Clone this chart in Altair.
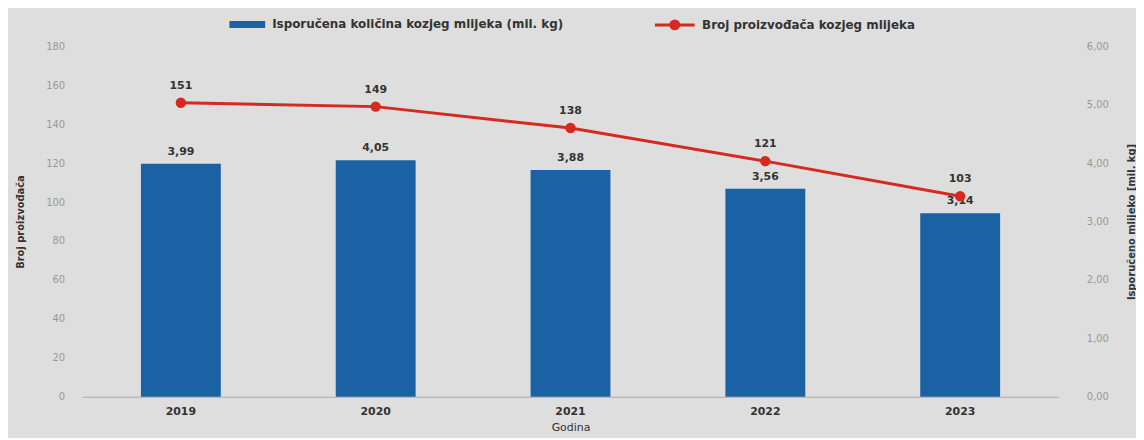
import altair as alt
import pandas as pd

years = ["2019", "2020", "2021", "2022", "2023"]
milk = [3.99, 4.05, 3.88, 3.56, 3.14]
producers = [151, 149, 138, 121, 103]
milk_label = "Isporučena količina kozjeg mlijeka (mil. kg)"
prod_label = "Broj proizvođača kozjeg mlijeka"
left_ticks = [0, 20, 40, 60, 80, 100, 120, 140, 160, 180]
right_ticks = [0, 1, 2, 3, 4, 5, 6]

df = pd.DataFrame({"Godina": years, "milk": milk, "producers": producers})
df["milk_txt"] = [f"{v:.2f}".replace(".", ",") for v in milk]
df["s1"] = milk_label
df["s2"] = prod_label

FONT = "DejaVu Sans"
BLUE = "#1b62a5"
RED = "#d42a20"

x = alt.X(
    "Godina:N",
    scale=alt.Scale(paddingInner=0.59, paddingOuter=0.3),
    axis=alt.Axis(
        title="Godina", labelAngle=0, ticks=False, labelFontWeight="bold",
        labelColor="#333", labelFontSize=11, labelPadding=9,
        titleFontSize=11, titleFontWeight="normal", titleColor="#333",
        titlePadding=5, domainColor="#aaa",
    ),
)

y_bar = alt.Y(
    "milk:Q",
    scale=alt.Scale(domain=[0, 6], nice=False),
    axis=alt.Axis(
        orient="right", title="Isporučeno mlijeko [mil. kg]", values=right_ticks,
        labelExpr="replace(format(datum.value, '.2f'), '.', ',')",
        grid=False, domain=False, ticks=False, labelColor="#999",
        labelFontSize=10, labelPadding=28, titleAngle=270, titleFontSize=10,
        titleFontWeight="bold", titleColor="#333", titlePadding=28,
    ),
)

y_line = alt.Y(
    "producers:Q",
    scale=alt.Scale(domain=[0, 180], nice=False),
    axis=alt.Axis(
        orient="left", title="Broj proizvođača", values=left_ticks,
        grid=False, domain=False, ticks=False, labelColor="#999",
        labelFontSize=10, labelPadding=18, titleFontSize=10,
        titleFontWeight="bold", titleColor="#333", titlePadding=20,
    ),
)

bars = alt.Chart(df).mark_bar().encode(
    x=x, y=y_bar,
    color=alt.Color(
        "s1:N", scale=alt.Scale(domain=[milk_label], range=[BLUE]),
        legend=alt.Legend(
            title=None, orient="none", legendX=155, legendY=-33,
            symbolType="M-1.8,-0.35H1.8V0.35H-1.8Z", symbolSize=400,
            labelOffset=14, labelLimit=600,
            labelFontWeight="bold", labelFontSize=12, labelColor="#333",
            labelFont=FONT,
        ),
    ),
)
bar_text = alt.Chart(df).mark_text(
    baseline="bottom", dy=-7, fontWeight="bold", fontSize=11, color="#333", font=FONT
).encode(x=x, y=y_bar, text="milk_txt:N")

left = alt.layer(bars, bar_text)

line = alt.Chart(df).mark_line(strokeWidth=3).encode(
    x=x, y=y_line,
    stroke=alt.Stroke(
        "s2:N", scale=alt.Scale(domain=[prod_label], range=[RED]),
        legend=alt.Legend(
            title=None, orient="none", legendX=585, legendY=-33,
            symbolType="M-2,0H2M-0.4,0A0.4,0.4,0,1,1,0.4,0A0.4,0.4,0,1,1,-0.4,0Z",
            symbolSize=400, symbolStrokeWidth=3, symbolFillColor=RED,
            labelOffset=16, labelLimit=600,
            labelFontWeight="bold", labelFontSize=12, labelColor="#333",
            labelFont=FONT,
        ),
    ),
)
points = alt.Chart(df).mark_circle(size=110, color=RED, opacity=1).encode(x=x, y=y_line)
line_text = alt.Chart(df).mark_text(
    baseline="bottom", dy=-12, fontWeight="bold", fontSize=11, color="#333", font=FONT
).encode(x=x, y=y_line, text="producers:Q")

right = alt.layer(line, points, line_text)

chart = (
    alt.layer(left, right)
    .resolve_scale(y="independent", color="independent")
    .properties(
        width=983, height=353,
        autosize=alt.AutoSizeParams(type="none"),
        padding={"left": 75, "top": 37, "right": 78, "bottom": 40},
        background="#dedede",
    )
    .configure_view(stroke=None)
    .configure_axis(labelFont=FONT, titleFont=FONT)
    .configure_legend(labelFont=FONT)
)

chart.save("out.html", embed_options={"renderer": "svg", "actions": False})
